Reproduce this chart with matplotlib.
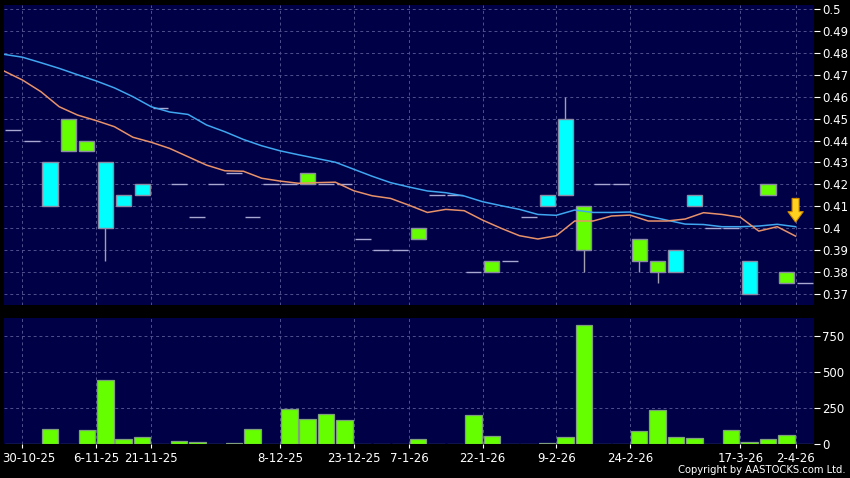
import numpy as np
import matplotlib
matplotlib.use("Agg")
import matplotlib.pyplot as plt
import matplotlib.transforms as mtransforms

plt.rcParams['font.family'] = ['DejaVu Sans']

# ---- data (one entry per trading bar) ----
opens = [0.445, 0.44, 0.41, 0.45, 0.44, 0.40, 0.41, 0.415, 0.455, 0.42,
         0.405, 0.42, 0.425, 0.405, 0.42, 0.42, 0.425, 0.42, 0.42, 0.395,
         0.39, 0.39, 0.40, 0.415, 0.415, 0.38, 0.385, 0.385, 0.405, 0.41,
         0.415, 0.41, 0.42, 0.42, 0.395, 0.385, 0.38, 0.41, 0.40, 0.40,
         0.37, 0.42, 0.38, 0.375]
closes = [0.445, 0.44, 0.43, 0.435, 0.435, 0.43, 0.415, 0.42, 0.455, 0.42,
          0.405, 0.42, 0.425, 0.405, 0.42, 0.42, 0.42, 0.42, 0.42, 0.395,
          0.39, 0.39, 0.395, 0.415, 0.415, 0.38, 0.38, 0.385, 0.405, 0.415,
          0.45, 0.39, 0.42, 0.42, 0.385, 0.38, 0.39, 0.415, 0.40, 0.40,
          0.385, 0.415, 0.375, 0.375]
highs = [0.445, 0.44, 0.43, 0.45, 0.44, 0.43, 0.415, 0.42, 0.455, 0.42,
         0.405, 0.42, 0.425, 0.405, 0.42, 0.42, 0.425, 0.42, 0.42, 0.395,
         0.39, 0.39, 0.40, 0.415, 0.415, 0.38, 0.385, 0.385, 0.405, 0.415,
         0.46, 0.41, 0.42, 0.42, 0.395, 0.385, 0.39, 0.415, 0.40, 0.40,
         0.385, 0.42, 0.38, 0.375]
lows = [0.445, 0.44, 0.41, 0.435, 0.435, 0.385, 0.41, 0.415, 0.455, 0.42,
        0.405, 0.42, 0.425, 0.405, 0.42, 0.42, 0.42, 0.42, 0.42, 0.395,
        0.39, 0.39, 0.395, 0.415, 0.415, 0.38, 0.38, 0.385, 0.405, 0.41,
        0.415, 0.38, 0.42, 0.42, 0.38, 0.375, 0.38, 0.41, 0.40, 0.40,
        0.37, 0.415, 0.375, 0.375]
volumes = [0, 0, 102, 0, 100, 442, 33, 49, 0, 19,
           17, 1, 5, 104, 0, 241, 174, 208, 167, 0,
           0, 0, 37, 0, 0, 199, 58, 0, 2, 8,
           47, 824, 1, 1, 88, 234, 49, 44, 0, 100,
           17, 33, 60, 0]
ma_short = [0.4717, 0.4676, 0.4623, 0.4554, 0.4516, 0.4491, 0.4463, 0.4415, 0.4392, 0.4364,
            0.4326, 0.4288, 0.4262, 0.4260, 0.4228, 0.4215, 0.4205, 0.4208, 0.4210, 0.4171,
            0.4148, 0.4136, 0.4105, 0.4072, 0.4086, 0.4080, 0.4037, 0.4000, 0.3966, 0.3951,
            0.3966, 0.4033, 0.4033, 0.4056, 0.4060, 0.4033, 0.4033, 0.4042, 0.4071, 0.4063,
            0.4050, 0.3987, 0.4007, 0.3964]
ma_long = [0.4793, 0.4780, 0.4755, 0.4729, 0.4700, 0.4672, 0.4640, 0.4600, 0.4554, 0.4530,
           0.4519, 0.4471, 0.4440, 0.4405, 0.4376, 0.4353, 0.4335, 0.4318, 0.4301, 0.4269,
           0.4237, 0.4208, 0.4188, 0.4170, 0.4162, 0.4147, 0.4121, 0.4103, 0.4086, 0.4063,
           0.4059, 0.4083, 0.4072, 0.4072, 0.4074, 0.4055, 0.4037, 0.4019, 0.4017, 0.4007,
           0.4007, 0.4010, 0.4018, 0.4007]
date_ticks = [0, 4, 7, 14, 18, 21, 25, 29, 33, 39, 42]
date_labels = ["30-10-25", "6-11-25", "21-11-25", "8-12-25", "23-12-25", "7-1-26",
               "22-1-26", "9-2-26", "24-2-26", "17-3-26", "2-4-26"]
price_ticks = [0.37, 0.38, 0.39, 0.40, 0.41, 0.42, 0.43, 0.44, 0.45, 0.46, 0.47, 0.48, 0.49, 0.50]
vol_ticks = [0, 250, 500, 750]

# ---- style ----
BG = '#000046'
GRID = '#50508f'
UP = '#00ffff'
DOWN = '#66ff00'
EDGE = '#8c8ca6'
DASH = '#a8a8d2'

W, H = 850, 478
fig = plt.figure(figsize=(W / 100, H / 100), dpi=100, facecolor='black')
ax1 = fig.add_axes([4 / W, 1 - 305 / H, 810 / W, 300 / H], facecolor=BG)
ax2 = fig.add_axes([4 / W, 1 - 444 / H, 810 / W, 126 / H], facecolor=BG)

n = len(opens)
x = np.arange(n)
grid_x = np.array(date_ticks) + 0.5

for ax in (ax1, ax2):
    for s in ax.spines.values():
        s.set_visible(False)
    ax.set_xlim(-0.5, n - 0.5)
    ax.set_xticks(grid_x)
    ax.yaxis.tick_right()
    ax.grid(True, color=GRID, linestyle=(0, (3, 3)), linewidth=0.7)
    ax.set_axisbelow(True)
    ax.tick_params(axis='y', colors='white', labelsize=8.5, length=4, width=0.8, pad=2)

# candles
for i in range(n):
    o, c, h, l = opens[i], closes[i], highs[i], lows[i]
    if o == c:
        ax1.hlines(c, i - 0.43, i + 0.43, color=DASH, lw=1.0, zorder=3)
        continue
    lo, hi = min(o, c), max(o, c)
    col = UP if c > o else DOWN
    if h > hi:
        ax1.vlines(i, hi, h, color='#a0a0b0', lw=1.0, zorder=2)
    if l < lo:
        ax1.vlines(i, l, lo, color='#a0a0b0', lw=1.0, zorder=2)
    ax1.bar(i, hi - lo, bottom=lo, width=0.82, color=col, edgecolor=EDGE, linewidth=1.0, zorder=3)

xm = np.arange(len(ma_short)) - 0.5
ax1.plot(xm, ma_long, color='#3fa6f0', lw=1.1, zorder=4)
ax1.plot(xm, ma_short, color='#e8926a', lw=1.1, zorder=4)

# arrow marker on last session
ax1.annotate('', xy=(n - 1.5, 0.4028), xytext=(n - 1.5, 0.4136),
             arrowprops=dict(arrowstyle='simple,head_length=0.75,head_width=1.1,tail_width=0.5',
                             fc='#ffd21f', ec='#d08a00', lw=0.8, shrinkA=0, shrinkB=0,
                             mutation_scale=10), zorder=6)

ax1.set_ylim(0.365, 0.5018)
ax1.set_yticks(price_ticks)
ax1.set_yticklabels([f"{round(v, 2):g}" for v in price_ticks])
ax1.tick_params(axis='x', length=0, labelbottom=False)

# volume
ax2.bar(x, volumes, width=0.9, color=DOWN, edgecolor='#7f9f7f', linewidth=0.9, zorder=3)
ax2.set_ylim(0, 873)
ax2.set_yticks(vol_ticks)
ax2.set_yticklabels([str(v) for v in vol_ticks])
ax2.set_xticklabels(date_labels)
ax2.tick_params(axis='x', colors='white', labelsize=8.5, length=3, width=0.8, pad=3)

# keep the first date label inside the figure edge
first = ax2.get_xticklabels()[0]
first.set_horizontalalignment('left')
first.set_transform(first.get_transform() +
                    mtransforms.ScaledTranslation(-20 / 100, 0, fig.dpi_scale_trans))

fig.text(846 / W, 1 - 470 / H, "Copyright by AASTOCKS.com Ltd.", color='white',
         fontsize=8, fontstretch='condensed', ha='right', va='center')

fig.savefig('out.png', dpi=100, facecolor='black')
